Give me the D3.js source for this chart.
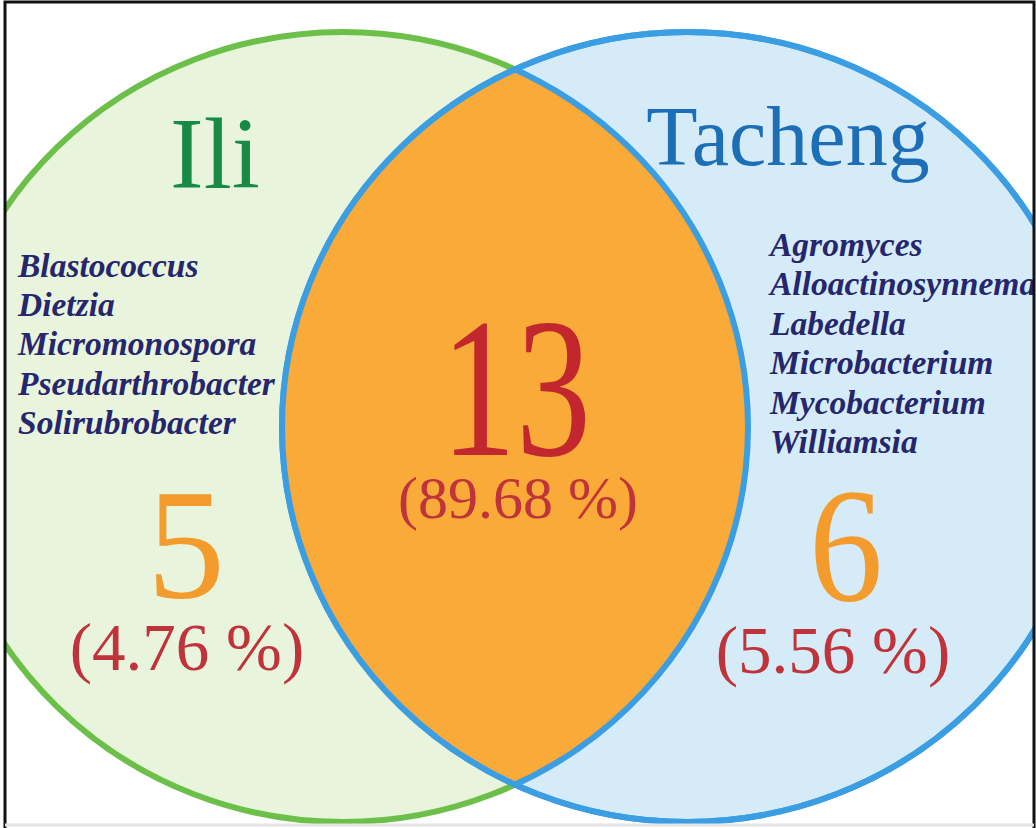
<!DOCTYPE html>
<html lang="en">
<head>
    <meta charset="UTF-8">
    <title>Ili / Tacheng Venn</title>
    <script src="https://d3js.org/d3.v7.min.js"></script>
    <style>
        body { margin: 0; background: #fff; }
        svg { display: block; }
        text { font-family: "Liberation Serif", "Times New Roman", serif; }
        .genus { font-weight: bold; font-style: italic; fill: #26266c; }
    </style>
</head>
<body>
    <svg width="1036" height="828"></svg>
    <script>
        // data
        var sets = ["Ili", "Tacheng"];
        var regions = ["Ili", "shared", "Tacheng"];
        var counts = [5, 13, 6];
        var percents = ["4.76 %", "89.68 %", "5.56 %"];
        var iliGenera = ["Blastococcus", "Dietzia", "Micromonospora", "Pseudarthrobacter", "Solirubrobacter"];
        var tachengGenera = ["Agromyces", "Alloactinosynnema", "Labedella", "Microbacterium", "Mycobacterium", "Williamsia"];

        var svg = d3.select("svg"),
            width = +svg.attr("width"),
            height = +svg.attr("height");

        // layout
        var cy = 427, rx = 405, ry = 395;
        var setX = d3.scalePoint().domain(sets).range([343, 687]);
        var labelX = d3.scalePoint().domain(regions).range([186, 846]);

        var defs = svg.append("defs");
        defs.append("clipPath").attr("id", "clipT")
            .append("ellipse")
            .attr("cx", setX("Tacheng")).attr("cy", cy).attr("rx", rx).attr("ry", ry);
        defs.append("clipPath").attr("id", "frame")
            .append("rect").attr("x", 5).attr("y", 2).attr("width", 1029).attr("height", 824);

        var g = svg.append("g").attr("clip-path", "url(#frame)");

        // Ili circle
        g.append("ellipse")
            .attr("cx", setX("Ili")).attr("cy", cy).attr("rx", rx).attr("ry", ry)
            .attr("fill", "#e9f4dd").attr("stroke", "#6cc04a").attr("stroke-width", 6);

        // Tacheng circle
        g.append("ellipse")
            .attr("cx", setX("Tacheng")).attr("cy", cy).attr("rx", rx).attr("ry", ry)
            .attr("fill", "#d5ecf8").attr("stroke", "#3b9de2").attr("stroke-width", 6);

        // overlap
        g.append("ellipse")
            .attr("clip-path", "url(#clipT)")
            .attr("cx", setX("Ili")).attr("cy", cy).attr("rx", rx).attr("ry", ry)
            .attr("fill", "#f9aa38").attr("stroke", "#3b9de2").attr("stroke-width", 6);

        g.append("ellipse")
            .attr("cx", setX("Tacheng")).attr("cy", cy).attr("rx", rx).attr("ry", ry)
            .attr("fill", "none").attr("stroke", "#3b9de2").attr("stroke-width", 6);

        // set titles
        g.append("text").text(sets[0])
            .attr("x", 215).attr("y", 188).attr("text-anchor", "middle")
            .attr("font-size", 101).attr("fill", "#178a45");
        g.append("text").text(sets[1])
            .attr("x", 788).attr("y", 165).attr("text-anchor", "middle")
            .attr("font-size", 84).attr("fill", "#1c6fb6");

        // genus lists
        g.selectAll(".ili").data(iliGenera).enter().append("text")
            .attr("class", "genus ili")
            .attr("x", 18).attr("y", function(d, i) { return 277 + i * 39.2; })
            .attr("font-size", 33.5).text(function(d) { return d; });

        g.selectAll(".tach").data(tachengGenera).enter().append("text")
            .attr("class", "genus tach")
            .attr("x", 770).attr("y", function(d, i) { return 256 + i * 39.4; })
            .attr("font-size", 33.5).text(function(d) { return d; });

        // counts (the digits in the figure are drawn a bit tall)
        var countY = [597, 455, 600];
        var countSize = [156, 150, 148];
        var countStretch = [1, 1.33, 1.1];
        var countColor = ["#f39b2c", "#c1272d", "#f39b2c"];
        g.selectAll(".count").data(counts).enter().append("text")
            .attr("class", "count")
            .attr("transform", function(d, i) {
                return "translate(" + labelX(regions[i]) + "," + countY[i] + ") scale(1," + countStretch[i] + ")";
            })
            .attr("text-anchor", "middle")
            .attr("font-size", function(d, i) { return countSize[i]; })
            .attr("fill", function(d, i) { return countColor[i]; })
            .text(function(d) { return d; });

        // percentages
        var pctY = [670, 518, 673];
        var pctX = [187, 518, 833];
        g.selectAll(".pct").data(percents).enter().append("text")
            .attr("class", "pct")
            .attr("x", function(d, i) { return pctX[i]; })
            .attr("y", function(d, i) { return pctY[i]; })
            .attr("text-anchor", "middle")
            .attr("font-size", function(d, i) { return i == 1 ? 60 : 67; })
            .attr("fill", "#bf333b")
            .text(function(d) { return "(" + d + ")"; });

        // frame
        svg.append("path")
            .attr("d", "M5,828 V2 H1034 V828")
            .attr("fill", "none").attr("stroke", "#111").attr("stroke-width", 3);
        svg.append("line")
            .attr("x1", 5).attr("x2", 1034).attr("y1", 825).attr("y2", 825)
            .attr("stroke", "#e4e4e4").attr("stroke-width", 3);
    </script>
</body>
</html>
